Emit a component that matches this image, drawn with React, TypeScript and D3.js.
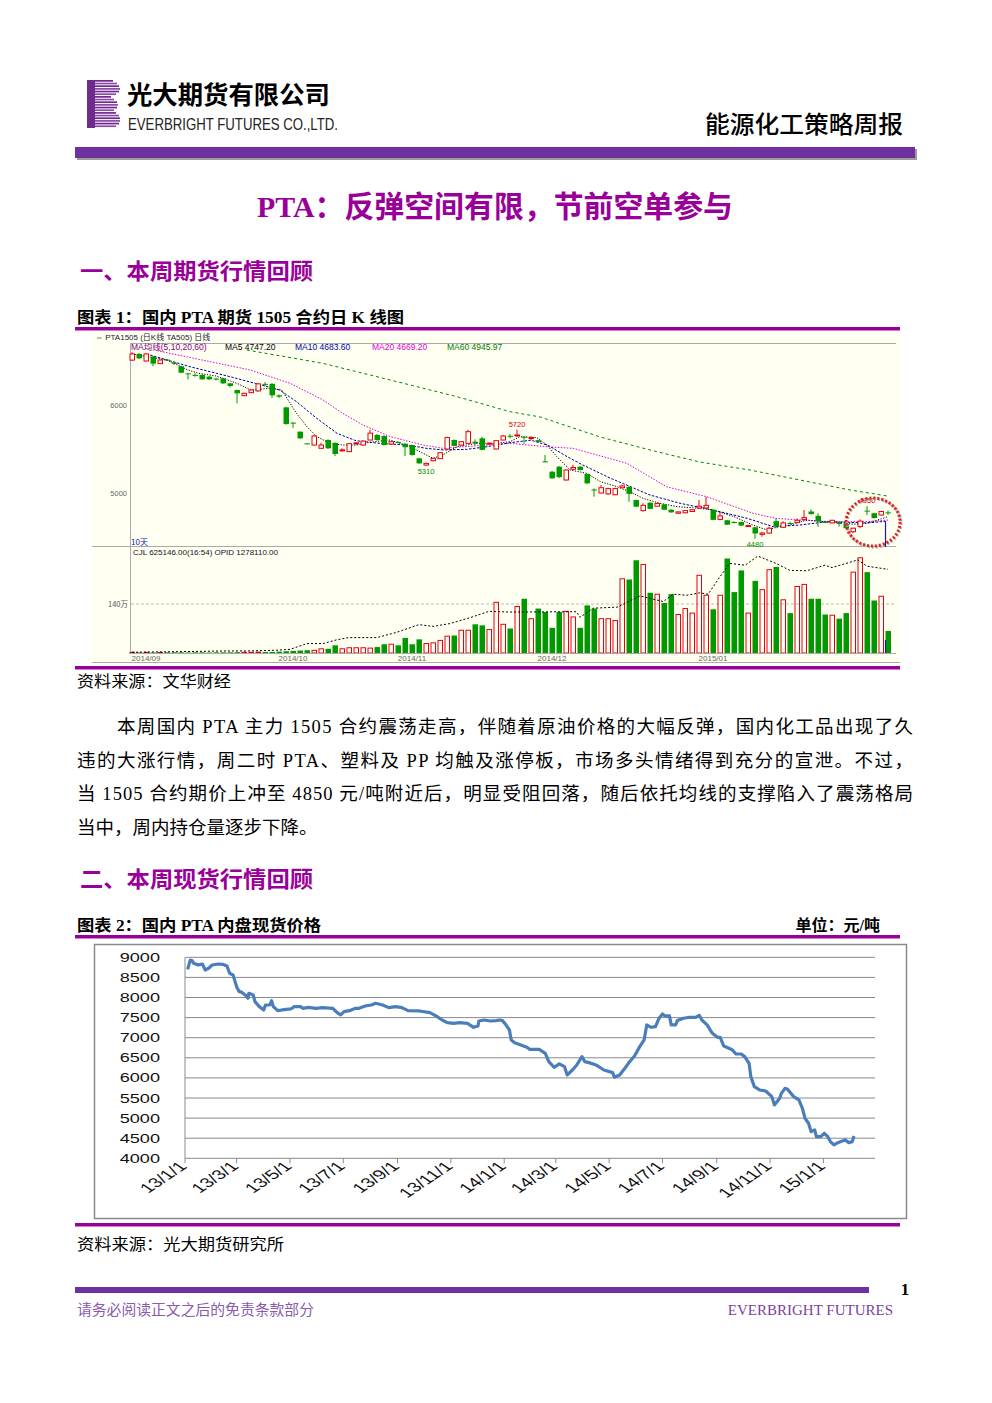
import React from 'react';
import * as d3 from 'd3';

// ---------- Figure 1: PTA1505 daily candles (open, high, low, close) ----------
const candles: [number, number, number, number][] = [
  [6510, 6600, 6500, 6580], [6580, 6590, 6520, 6530], [6500, 6590, 6490, 6580], [6550, 6560, 6440, 6470],
  [6470, 6520, 6465, 6511], [6515, 6520, 6500, 6505], [6480, 6495, 6455, 6470], [6440, 6445, 6360, 6367],
  [6360, 6362, 6290, 6350], [6342, 6360, 6320, 6340], [6341, 6350, 6285, 6292], [6322, 6330, 6285, 6292],
  [6300, 6310, 6280, 6290], [6303, 6310, 6240, 6246], [6246, 6250, 6200, 6216], [6170, 6175, 6019, 6133],
  [6106, 6140, 6100, 6133], [6140, 6175, 6135, 6170], [6160, 6250, 6150, 6240], [6240, 6260, 6210, 6230],
  [6240, 6250, 6080, 6110], [6110, 6120, 6080, 6095], [5973, 5980, 5775, 5784], [5800, 5805, 5740, 5790],
  [5697, 5700, 5615, 5621], [5564, 5566, 5555, 5560], [5545, 5660, 5540, 5648], [5508, 5570, 5500, 5545],
  [5602, 5610, 5500, 5508], [5570, 5575, 5420, 5443], [5480, 5508, 5470, 5490], [5470, 5570, 5465, 5560],
  [5560, 5580, 5550, 5570], [5545, 5600, 5540, 5590], [5602, 5720, 5600, 5680], [5660, 5670, 5595, 5602],
  [5648, 5655, 5540, 5545], [5556, 5590, 5550, 5583], [5580, 5590, 5565, 5575], [5560, 5565, 5420, 5520],
  [5545, 5550, 5425, 5432], [5394, 5400, 5330, 5337], [5318, 5345, 5310, 5337], [5367, 5400, 5360, 5394],
  [5390, 5465, 5385, 5458], [5500, 5640, 5495, 5630], [5602, 5610, 5530, 5535], [5545, 5590, 5540, 5583],
  [5564, 5720, 5560, 5697], [5583, 5610, 5540, 5564], [5621, 5640, 5485, 5490], [5560, 5575, 5550, 5566],
  [5500, 5600, 5495, 5595], [5602, 5660, 5600, 5648], [5650, 5670, 5620, 5640], [5650, 5720, 5640, 5660],
  [5640, 5645, 5560, 5630], [5620, 5645, 5600, 5630], [5600, 5605, 5575, 5580], [5360, 5432, 5350, 5356],
  [5242, 5250, 5160, 5167], [5299, 5305, 5170, 5180], [5148, 5270, 5140, 5261], [5270, 5320, 5260, 5290],
  [5299, 5305, 5255, 5261], [5216, 5220, 5100, 5110], [5040, 5053, 4958, 5030], [5000, 5091, 4996, 5060],
  [4990, 5060, 4980, 5050], [4980, 5060, 4975, 5050], [5060, 5095, 5055, 5080], [5070, 5075, 4900, 4990],
  [4920, 4925, 4840, 4845], [4800, 4883, 4788, 4860], [4890, 4895, 4815, 4820], [4850, 4890, 4845, 4880],
  [4870, 4875, 4805, 4810], [4810, 4815, 4775, 4780], [4770, 4790, 4765, 4785], [4775, 4805, 4770, 4800],
  [4790, 4815, 4785, 4810], [4830, 4920, 4820, 4850], [4830, 4958, 4825, 4860], [4810, 4815, 4690, 4695],
  [4700, 4788, 4690, 4740], [4690, 4695, 4635, 4640], [4670, 4680, 4655, 4665], [4670, 4675, 4625, 4630],
  [4620, 4640, 4615, 4630], [4610, 4615, 4480, 4540], [4530, 4560, 4504, 4545], [4545, 4617, 4540, 4600],
  [4680, 4712, 4598, 4620], [4610, 4680, 4605, 4660], [4660, 4674, 4640, 4655], [4665, 4712, 4660, 4690],
  [4700, 4807, 4695, 4720], [4790, 4815, 4755, 4760], [4740, 4770, 4617, 4680], [4670, 4680, 4660, 4665],
  [4660, 4695, 4655, 4690], [4660, 4674, 4617, 4655], [4650, 4655, 4595, 4600], [4560, 4605, 4542, 4600],
  [4620, 4700, 4600, 4680], [4800, 4850, 4750, 4790], [4770, 4775, 4710, 4715], [4750, 4795, 4745, 4790],
  [4780, 4800, 4750, 4775],
];

// daily volume, 万手
const volumes: number[] = [
  2, 1.5, 2, 1.5, 1.5, 2, 2, 2, 1.5, 2, 2, 1.5, 2, 2, 2, 2.5, 2, 2, 2.5, 3,
  3, 4, 5, 6, 7, 8, 7.6, 12, 12, 22, 12, 15, 15, 15, 14, 17, 25, 25, 22, 43,
  25, 39, 27, 29, 36, 48, 50, 65, 65, 82, 79, 67, 145, 82, 70, 133, 155, 98, 127, 117,
  72, 117, 119, 103, 72, 136, 127, 98, 98, 93, 212, 210, 265, 253, 172, 168, 143, 168, 110, 127,
  114, 222, 165, 125, 165, 270, 174, 236, 114, 206, 181, 238, 246, 152, 114, 190, 196, 155, 155, 110,
  108, 98, 114, 231, 272, 231, 150, 162, 63,
];

// moving averages: [candle index, value]
const ma5: [number, number][] = [
  [0, 6580], [5, 6511], [8, 6398], [9.5, 6360], [12, 6330], [15, 6246], [17, 6170], [19.7, 6190], [21.4, 6170],
  [22.6, 6019], [23.5, 5905], [25, 5753], [26.4, 5640], [28.3, 5564], [30.1, 5545], [32, 5545], [34.5, 5583],
  [36.9, 5602], [39.7, 5527], [41.6, 5451], [43, 5394], [44.4, 5432], [46.4, 5527], [49.3, 5564], [52, 5564],
  [54, 5583], [55.4, 5640], [57.8, 5630], [59.3, 5545], [60.7, 5412], [62.6, 5261], [65, 5223], [66.9, 5129],
  [69.3, 5072], [71.1, 5015], [73, 4939], [75.4, 4883], [77.9, 4845], [81.1, 4826], [83, 4807], [86, 4731],
  [88.7, 4636], [90.7, 4580], [92, 4610], [94, 4636], [96.4, 4693], [98.8, 4674], [101, 4665], [103, 4645],
  [105, 4655], [108, 4731],
];
const ma10: [number, number][] = [
  [2.6, 6568], [8.3, 6435], [14, 6322], [17.6, 6246], [21.1, 6170], [23.5, 6038], [26.4, 5848], [29.3, 5678],
  [32, 5594], [35.4, 5564], [39.3, 5545], [42, 5508], [44.5, 5489], [47.8, 5496], [51.1, 5530], [54, 5572],
  [57, 5600], [59.5, 5540], [62, 5420], [64.4, 5318], [68.3, 5170], [74, 4977], [78.3, 4883], [83, 4807],
  [87.9, 4712], [91.6, 4617], [95.4, 4636], [99.3, 4674], [105, 4660], [107.9, 4680],
];
const ma20: [number, number][] = [
  [3.6, 6617], [16.9, 6398], [22.6, 6246], [27.3, 6057], [30.1, 5905], [33, 5773], [36.9, 5640], [41.6, 5545],
  [44.4, 5508], [54, 5564], [59.7, 5523], [63, 5508], [70.7, 5337], [76.4, 5070], [82.1, 4958], [88.7, 4770],
  [92, 4712], [95.4, 4693], [100, 4674], [105, 4674], [108, 4693],
];
const ma60: [number, number][] = [
  [16.4, 6625], [27.3, 6473], [36.9, 6284], [46.4, 6095], [54, 5924], [58.3, 5864], [66.9, 5636], [74, 5489],
  [81.1, 5352], [88.3, 5261], [95.4, 5148], [102.6, 5034], [107.9, 4966],
];
const volMa: [number, number][] = [
  [0, 2], [13, 5.7], [17, 6], [20.7, 8], [22.6, 10.5], [25, 27], [27.3, 27], [29.3, 38], [31, 44], [35, 44],
  [37.8, 59], [41, 81], [43, 76], [45.4, 84], [48.3, 101], [51, 119], [54, 117], [63.5, 118], [64, 102],
  [65.9, 128], [69.3, 131], [72.6, 163], [75.9, 147], [77.3, 168], [79.3, 165], [81.1, 172], [82.3, 168],
  [84, 218], [85.4, 256], [87.6, 251], [89.4, 277], [92, 256], [94, 236], [96.4, 235], [99, 251], [100, 244],
  [103.7, 266], [105, 248], [108, 239],
];
const priceTicks = [5000, 6000];
const monthLabels = ['2014/09', '2014/10', '2014/11', '2014/12', '2015/01'];
const monthStartIdx = [2, 23, 40, 60, 83];
// extreme marks: [candle index, price, 'high' | 'low', label]
const extremes: [number, number, string, string][] = [
  [55, 5720, 'high', '5720'], [42, 5310, 'low', '5310'], [89, 4480, 'low', '4480'], [105, 4850, 'high', '4850'],
];
const maLegend = [
  { text: 'MA均线(5,10,20,60)', color: '#800080' },
  { text: 'MA5 4747.20', color: '#000000' },
  { text: 'MA10 4683.60', color: '#0000B0' },
  { text: 'MA20 4669.20', color: '#E000E0' },
  { text: 'MA60 4945.97', color: '#008000' },
];

// ---------- Figure 2: PTA spot price (元/吨) ----------
const spotDates: string[] = [
  '2013-01-04', '2013-01-07', '2013-01-09', '2013-01-11', '2013-01-16', '2013-01-21', '2013-01-24', '2013-01-28',
  '2013-02-01', '2013-02-08', '2013-02-13', '2013-02-18', '2013-02-21', '2013-02-25', '2013-03-01', '2013-03-04',
  '2013-03-06', '2013-03-11', '2013-03-14', '2013-03-15', '2013-03-20', '2013-03-22', '2013-03-27', '2013-04-01',
  '2013-04-03', '2013-04-08', '2013-04-10', '2013-04-12', '2013-04-17', '2013-04-22', '2013-05-02', '2013-05-06',
  '2013-05-13', '2013-05-16', '2013-05-22', '2013-05-31', '2013-06-07', '2013-06-19', '2013-06-24', '2013-06-28',
  '2013-07-02', '2013-07-08', '2013-07-15', '2013-07-19', '2013-07-26', '2013-08-02', '2013-08-07', '2013-08-15',
  '2013-08-22', '2013-08-30', '2013-09-06', '2013-09-13', '2013-09-26', '2013-10-08', '2013-10-15', '2013-10-22',
  '2013-10-28', '2013-11-04', '2013-11-11', '2013-11-20', '2013-11-27', '2013-12-02', '2013-12-03', '2013-12-09',
  '2013-12-16', '2013-12-23', '2013-12-27', '2013-12-30', '2014-01-03', '2014-01-07', '2014-01-09', '2014-01-13',
  '2014-01-20', '2014-01-27', '2014-01-30', '2014-02-10', '2014-02-17', '2014-02-21', '2014-02-27', '2014-03-05',
  '2014-03-11', '2014-03-14', '2014-03-20', '2014-03-25', '2014-03-31', '2014-04-03', '2014-04-08', '2014-04-16',
  '2014-04-25', '2014-05-05', '2014-05-07', '2014-05-13', '2014-05-19', '2014-05-23', '2014-05-30', '2014-06-05',
  '2014-06-10', '2014-06-13', '2014-06-18', '2014-06-23', '2014-06-27', '2014-07-01', '2014-07-04', '2014-07-09',
  '2014-07-11', '2014-07-16', '2014-07-18', '2014-07-25', '2014-08-01', '2014-08-08', '2014-08-12', '2014-08-15',
  '2014-08-21', '2014-08-27', '2014-09-02', '2014-09-05', '2014-09-09', '2014-09-15', '2014-09-19', '2014-09-23',
  '2014-09-29', '2014-10-03', '2014-10-08', '2014-10-10', '2014-10-14', '2014-10-20', '2014-10-27', '2014-11-03',
  '2014-11-06', '2014-11-12', '2014-11-14', '2014-11-18', '2014-11-21', '2014-11-28', '2014-12-04', '2014-12-08',
  '2014-12-11', '2014-12-15', '2014-12-18', '2014-12-22', '2014-12-24', '2014-12-29', '2015-01-02', '2015-01-06',
  '2015-01-09', '2015-01-13', '2015-01-16', '2015-01-21', '2015-01-26', '2015-01-30', '2015-02-03', '2015-02-05',
];
const spotPrices: number[] = [
  8700, 8930, 8920, 8850, 8810, 8830, 8685, 8726,
  8809, 8834, 8826, 8784, 8602, 8560, 8270, 8146,
  8140, 8063, 7980, 8105, 8063, 7897, 7773, 7690,
  7814, 7814, 7922, 7773, 7673, 7690, 7715, 7773,
  7773, 7731, 7756, 7731, 7748, 7731, 7624, 7566,
  7648, 7673, 7731, 7731, 7789, 7814, 7856, 7814,
  7748, 7773, 7748, 7673, 7665, 7624, 7541, 7441,
  7375, 7358, 7375, 7358, 7259, 7292, 7416, 7441,
  7416, 7425, 7441, 7425, 7320, 7192, 6944, 6877,
  6819, 6761, 6711, 6711, 6612, 6405, 6264, 6347,
  6280, 6073, 6197, 6322, 6529, 6405, 6380, 6322,
  6197, 6131, 6015, 6073, 6239, 6363, 6546, 6778,
  6944, 7317, 7259, 7275, 7483, 7590, 7541, 7541,
  7317, 7317, 7425, 7483, 7508, 7508, 7557, 7441,
  7317, 7110, 7010, 7010, 6794, 6736, 6695, 6595,
  6595, 6529, 6363, 6032, 5783, 5700, 5675, 5534,
  5327, 5493, 5617, 5741, 5716, 5534, 5451, 5244,
  4995, 4871, 4663, 4705, 4539, 4539, 4622, 4539,
  4415, 4332, 4373, 4415, 4456, 4390, 4415, 4556,
];
const spotYTicks = [4000, 4500, 5000, 5500, 6000, 6500, 7000, 7500, 8000, 8500, 9000];

// ---------- Text ----------
const paragraph = [
  '本周国内 PTA 主力 1505 合约震荡走高，伴随着原油价格的大幅反弹，国内化工品出现了久',
  '违的大涨行情，周二时 PTA、塑料及 PP 均触及涨停板，市场多头情绪得到充分的宣泄。不过，',
  '当 1505 合约期价上冲至 4850 元/吨附近后，明显受阻回落，随后依托均线的支撑陷入了震荡格局',
  '当中，周内持仓量逐步下降。',
];

const CJK = "'Noto Sans CJK SC', sans-serif";
const SERIF = "'Liberation Serif', 'Noto Sans CJK SC', serif";
const SANS = "'Liberation Sans', 'Noto Sans CJK SC', sans-serif";
const MAGENTA = '#990099';
const PURPLE = '#7030A0';
const RED = '#E60012';
const GREEN = '#009A00';

export default function App() {
  // Figure 1 scales
  const kx = d3.scaleLinear().domain([0, 108]).range([132, 888]);
  const ky = d3.scaleLinear().domain([5000, 6000]).range([493, 405]);
  const vy = d3.scaleLinear().domain([0, 140]).range([653, 604]);
  const maPath = d3.line<[number, number]>().x((d) => kx(d[0])).y((d) => ky(d[1]));
  const volPath = d3.line<[number, number]>().x((d) => kx(d[0])).y((d) => vy(d[1]));

  // Figure 2 scales
  const parse = d3.timeParse('%Y-%m-%d');
  const sx = d3.scaleTime().domain([new Date(2013, 0, 1), new Date(2015, 2, 1)]).range([185, 875]);
  const sy = d3.scaleLinear().domain([4000, 9000]).range([1158.3, 957.3]);
  const spot = spotDates.map((d, i) => ({ date: parse(d) as Date, v: spotPrices[i] }));
  const spotLine = d3.line<{ date: Date; v: number }>().x((d) => sx(d.date)).y((d) => sy(d.v));
  const xTicks = d3.timeMonth.every(2)!.range(new Date(2013, 0, 1), new Date(2015, 0, 2));
  const fmt = d3.timeFormat('%y/%-m/%-d');

  const logoStripes = [18, 22, 24, 25, 24, 21, 16, 19, 22, 23, 22, 19, 21, 24, 25, 25, 24, 21];

  return (
    <svg width={992} height={1403} style={{ position: 'absolute', left: 0, top: 0, background: '#fff' }}>
      <rect x={0} y={0} width={992} height={1403} fill="#fff" />

      {/* ---------- Header ---------- */}
      <rect x={87} y={80} width={8} height={48} fill="#6E2A8C" />
      {logoStripes.map((len, k) => (
        <rect key={k} x={95} y={80 + k * 2.67} width={len} height={1.7} fill={k % 2 ? '#8B4BA8' : '#6E2A8C'} />
      ))}
      <text x={127} y={104} fontFamily={CJK} fontWeight={700} fontSize={25} textLength={203} lengthAdjust="spacingAndGlyphs">光大期货有限公司</text>
      <text x={128} y={130} fontFamily="'Liberation Sans', sans-serif" fontSize={16.5} fill="#222" textLength={210} lengthAdjust="spacingAndGlyphs">EVERBRIGHT FUTURES CO.,LTD.</text>
      <text x={705} y={133} fontFamily={CJK} fontWeight={500} fontSize={24} textLength={198} lengthAdjust="spacingAndGlyphs">能源化工策略周报</text>
      <rect x={77} y={149} width={840} height={11} fill="#9c9c9c" />
      <rect x={75} y={147} width={840} height={11} fill={PURPLE} />

      {/* ---------- Title ---------- */}
      <text x={257} y={217} fontFamily={SERIF} fontWeight={700} fontSize={30} fill={MAGENTA} textLength={476} lengthAdjust="spacingAndGlyphs">PTA：反弹空间有限，节前空单参与</text>

      <text x={80} y={279} fontFamily={CJK} fontWeight={700} fontSize={22} fill={MAGENTA} textLength={233} lengthAdjust="spacingAndGlyphs">一、本周期货行情回顾</text>

      <text x={77} y={323} fontFamily={SERIF} fontWeight={700} fontSize={16} textLength={327} lengthAdjust="spacingAndGlyphs">图表 1：国内 PTA 期货 1505 合约日 K 线图</text>
      <rect x={75} y={327} width={825} height={3.5} fill={MAGENTA} />

      {/* ---------- Figure 1 ---------- */}
      <rect x={92} y={331} width={808} height={332} fill="#FFFFF2" />
      <text x={95} y={340} fontFamily={SANS} fontSize={8} fill="#223">⇔ PTA1505 (日K线 TA505) 日线</text>
      <line x1={130} x2={896} y1={343.5} y2={343.5} stroke="#aaa" />
      <line x1={130.5} x2={130.5} y1={343} y2={653} stroke="#aaa" />
      <line x1={92} x2={896} y1={546.5} y2={546.5} stroke="#aaa" />
      <line x1={92} x2={900} y1={662.5} y2={662.5} stroke="#aaa" />
      {(() => {
        let x = 131;
        const pos = [131, 225, 295, 372, 447];
        return maLegend.map((m, i) => {
          x = pos[i];
          return (
            <text key={i} x={x} y={350} fontFamily={SANS} fontSize={8.5} fill={m.color}>{m.text}</text>
          );
        });
      })()}
      {priceTicks.map((p) => (
        <text key={p} x={127} y={ky(p) + 3} textAnchor="end" fontFamily={SANS} fontSize={7.5} fill="#666">{p}</text>
      ))}

      {/* moving averages */}
      <path d={maPath(ma60) || ''} fill="none" stroke="#008800" strokeWidth={1} strokeDasharray="3 3" />
      <path d={maPath(ma20) || ''} fill="none" stroke="#E000E0" strokeWidth={1} strokeDasharray="1.5 1.5" />
      <path d={maPath(ma10) || ''} fill="none" stroke="#0000AA" strokeWidth={1} strokeDasharray="2.5 1.5" />
      <path d={maPath(ma5) || ''} fill="none" stroke="#000" strokeWidth={1} strokeDasharray="1.2 1.5" />

      {/* candles */}
      {candles.map(([o, h, l, c], i) => {
        const x = kx(i);
        const up = c > o;
        const col = c === o ? '#000' : up ? RED : GREEN;
        const top = ky(Math.max(o, c));
        const bh = Math.max(1, ky(Math.min(o, c)) - top);
        return (
          <g key={i}>
            <line x1={x} x2={x} y1={ky(h)} y2={up ? top : ky(l)} stroke={col} />
            {up && <line x1={x} x2={x} y1={top + bh} y2={ky(l)} stroke={col} />}
            {up ? (
              <rect x={x - 2} y={top} width={4.5} height={bh} fill="#FFFFF2" stroke={col} strokeWidth={1} />
            ) : (
              <rect x={x - 2.5} y={top} width={5.5} height={bh} fill={col} />
            )}
          </g>
        );
      })}
      {extremes.map(([i, v, kind, label]) => (
        <text key={label} x={kx(i)} y={kind === 'high' ? ky(v) - 3 : ky(v) + 8} textAnchor="middle" fontFamily={SANS} fontSize={7.5}
          fill={kind === 'high' ? '#D00000' : '#008800'}>{label}</text>
      ))}
      <ellipse cx={874} cy={523} rx={27} ry={24} fill="none" stroke="#aaa" strokeWidth={3} strokeDasharray="2 2" />
      <ellipse cx={873} cy={522} rx={27} ry={24} fill="none" stroke="#E02020" strokeWidth={3} strokeDasharray="2 2" />
      <line x1={885.5} x2={885.5} y1={522} y2={547} stroke="#1020A0" strokeWidth={1.2} />

      {/* volume panel */}
      <text x={131} y={545} fontFamily={CJK} fontSize={8} fill="#1020C0">10天</text>
      <text x={133} y={555} fontFamily={SANS} fontSize={8} fill="#112">CJL  625146.00(16:54)     OPID   1278110.00</text>
      <line x1={131} x2={896} y1={vy(140)} y2={vy(140)} stroke="#bbb" strokeDasharray="3 2" />
      <text x={128} y={vy(140) + 3} textAnchor="end" fontFamily={CJK} fontSize={7.5} fill="#555">140万</text>
      {volumes.map((v, i) => {
        const [o, , , c] = candles[i];
        const up = c > o;
        const x = kx(i);
        const top = vy(v);
        const hh = Math.max(0.8, vy(0) - top);
        return up ? (
          <rect key={i} x={x - 2} y={top} width={4.5} height={hh} fill="none" stroke={RED} strokeWidth={1} />
        ) : (
          <rect key={i} x={x - 2.5} y={top} width={5.5} height={hh} fill={GREEN} />
        );
      })}
      <path d={volPath(volMa) || ''} fill="none" stroke="#000" strokeWidth={1} strokeDasharray="2 2" />
      <line x1={885.5} x2={885.5} y1={640} y2={653} stroke="#1020A0" strokeWidth={1.2} />
      <line x1={130} x2={896} y1={653.5} y2={653.5} stroke="#aaa" />
      {monthLabels.map((m, i) => (
        <text key={m} x={kx(monthStartIdx[i])} y={661} textAnchor="middle" fontFamily={SANS} fontSize={8} fill="#666">{m}</text>
      ))}
      <rect x={75} y={666} width={825} height={3.5} fill={MAGENTA} />

      <text x={77} y={687} fontFamily={CJK} fontSize={15.5} textLength={154} lengthAdjust="spacingAndGlyphs">资料来源：文华财经</text>

      {/* ---------- Paragraph ---------- */}
      {paragraph.map((line, i) => {
        const x = i === 0 ? 117 : 77;
        const props: any = {};
        if (i < 3) {
          props.textLength = 913 - x;
          props.lengthAdjust = 'spacing';
        }
        return (
          <text key={i} x={x} y={733 + i * 33.7} fontFamily={SERIF} fontSize={18.5} {...props}>{line}</text>
        );
      })}

      <text x={80} y={887} fontFamily={CJK} fontWeight={700} fontSize={22} fill={MAGENTA} textLength={233} lengthAdjust="spacingAndGlyphs">二、本周现货行情回顾</text>

      <text x={77} y={931} fontFamily={SERIF} fontWeight={700} fontSize={16} textLength={244} lengthAdjust="spacingAndGlyphs">图表 2：国内 PTA 内盘现货价格</text>
      <text x={880} y={931} textAnchor="end" fontFamily={SERIF} fontWeight={700} fontSize={16}>单位：元/吨</text>
      <rect x={75} y={935} width={825} height={3.5} fill={MAGENTA} />

      {/* ---------- Figure 2 ---------- */}
      <rect x={94.5} y={944.5} width={812} height={274} fill="#fff" stroke="#8a8a8a" strokeWidth={1.5} />
      {spotYTicks.map((t) => (
        <g key={t}>
          <line x1={185} x2={875} y1={sy(t)} y2={sy(t)} stroke="#8a8a8a" strokeWidth={1} />
          <text transform={`translate(160,${sy(t) + 4.5}) scale(1.45,1)`} textAnchor="end" fontFamily="'Liberation Sans', sans-serif" fontSize={12.5} fill="#111">{t}</text>
        </g>
      ))}
      <line x1={185} x2={185} y1={sy(9000)} y2={sy(4000)} stroke="#8a8a8a" />
      {xTicks.map((d, i) => (
        <g key={i}>
          <line x1={sx(d)} x2={sx(d)} y1={sy(4000)} y2={sy(4000) + 5} stroke="#8a8a8a" />
          <text transform={`translate(${sx(d) + 3},${sy(4000) + 9}) scale(1.5,1) rotate(-45)`} textAnchor="end" fontFamily="'Liberation Sans', sans-serif" fontSize={13.5} fill="#111">{fmt(d)}</text>
        </g>
      ))}
      <path d={spotLine(spot) || ''} fill="none" stroke="#4A7EBB" strokeWidth={3.2} strokeLinejoin="round" />
      <rect x={75} y={1223} width={825} height={3.5} fill={MAGENTA} />

      <text x={77} y={1250} fontFamily={CJK} fontSize={15.5} textLength={207} lengthAdjust="spacingAndGlyphs">资料来源：光大期货研究所</text>

      {/* ---------- Footer ---------- */}
      <rect x={75} y={1287} width={794} height={6} fill={PURPLE} />
      <text x={905} y={1295} textAnchor="middle" fontFamily="'Liberation Serif', serif" fontWeight={700} fontSize={17}>1</text>
      <text x={77} y={1315} fontFamily={CJK} fontSize={14.5} fill="#8A5AAE" textLength={237} lengthAdjust="spacingAndGlyphs">请务必阅读正文之后的免责条款部分</text>
      <text x={893} y={1315} textAnchor="end" fontFamily="'Liberation Serif', serif" fontSize={15} fill="#7A3FA0">EVERBRIGHT FUTURES</text>
    </svg>
  );
}
